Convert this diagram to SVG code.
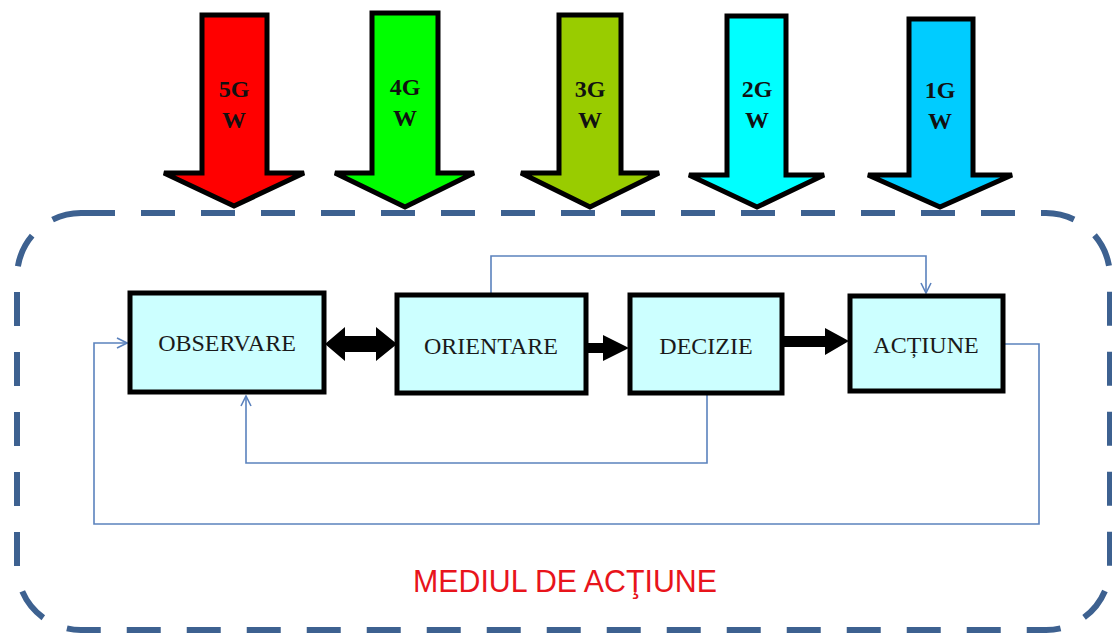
<svg xmlns="http://www.w3.org/2000/svg" width="1112" height="634" viewBox="0 0 1112 634">
<style>
.big{stroke:#000;stroke-width:5;stroke-linejoin:miter}
.lbl{font-family:"Liberation Serif",serif;font-weight:bold;font-size:24px;fill:#111;text-anchor:middle}
.box{fill:#ccffff;stroke:#000;stroke-width:5}
.bt{font-family:"Liberation Serif",serif;font-size:24px;fill:#1a1a1a;text-anchor:middle}
.thin{fill:none;stroke:#5b82bd;stroke-width:1.6}
.fat{fill:#000;stroke:none}
</style>
<defs>
<marker id="open" viewBox="0 0 12 12" refX="11" refY="6" markerWidth="12" markerHeight="12" markerUnits="userSpaceOnUse" orient="auto">
<path d="M1,1 L11,6 L1,11" fill="none" stroke="#5b82bd" stroke-width="1.6"/>
</marker>
</defs>
<rect x="17" y="213" width="1093" height="417" rx="64" fill="none" stroke="#3d6190" stroke-width="6" stroke-dasharray="34 26"/>
<g id="arrow5g"><polygon class="big" fill="#ff0000" points="202,15 267,15 267,173 304,173 234,206 164,173 202,173"/><text class="lbl" x="234" y="97">5G</text><text class="lbl" x="234" y="128">W</text></g>
<g id="arrow4g"><polygon class="big" fill="#00ff00" points="372,13 438,13 438,173 474,173 405,207 335,173 372,173"/><text class="lbl" x="405" y="95">4G</text><text class="lbl" x="405" y="126">W</text></g>
<g id="arrow3g"><polygon class="big" fill="#99cc00" points="559,15 621,15 621,173 659,173 590,207 521,173 559,173"/><text class="lbl" x="590" y="97">3G</text><text class="lbl" x="590" y="128">W</text></g>
<g id="arrow2g"><polygon class="big" fill="#00ffff" points="727,16 786,16 786,175 824,175 757,207 689,175 727,175"/><text class="lbl" x="757" y="97">2G</text><text class="lbl" x="757" y="128">W</text></g>
<g id="arrow1g"><polygon class="big" fill="#00ccff" points="909,19 973,19 973,175 1012,175 940,207 868,175 909,175"/><text class="lbl" x="940" y="98">1G</text><text class="lbl" x="940" y="129">W</text></g>
<g id="connectors">
<polygon class="fat" points="325,344 345,327 345,336 376,336 376,327 397,344 376,361 376,352 345,352 345,361"/>
<polygon class="fat" points="588,343 603,343 603,335 629,348 603,361 603,353 588,353"/>
<polygon class="fat" points="784,336 825,336 825,328 849,341 825,355 825,347 784,347"/>
<path class="thin" d="M491,293 V256 H926 V293" marker-end="url(#open)"/>
<path class="thin" d="M707,395 V463 H246 V396" marker-end="url(#open)"/>
<path class="thin" d="M1005,344 H1039 V524 H94 V343 H127" marker-end="url(#open)"/>
</g>
<g id="observare"><rect class="box" x="130" y="293" width="194" height="99"/><text class="bt" x="227" y="351">OBSERVARE</text></g>
<g id="orientare"><rect class="box" x="397" y="295" width="189" height="98"/><text class="bt" x="491" y="354">ORIENTARE</text></g>
<g id="decizie"><rect class="box" x="630" y="295" width="152" height="98"/><text class="bt" x="706" y="354">DECIZIE</text></g>
<g id="actiune"><rect class="box" x="850" y="296" width="153" height="95"/><text class="bt" x="926" y="353">ACȚIUNE</text></g>
<text x="565" y="592" font-family="Liberation Sans,sans-serif" font-size="31" fill="#e8141b" text-anchor="middle" textLength="304" lengthAdjust="spacingAndGlyphs">MEDIUL DE ACŢIUNE</text>
</svg>
